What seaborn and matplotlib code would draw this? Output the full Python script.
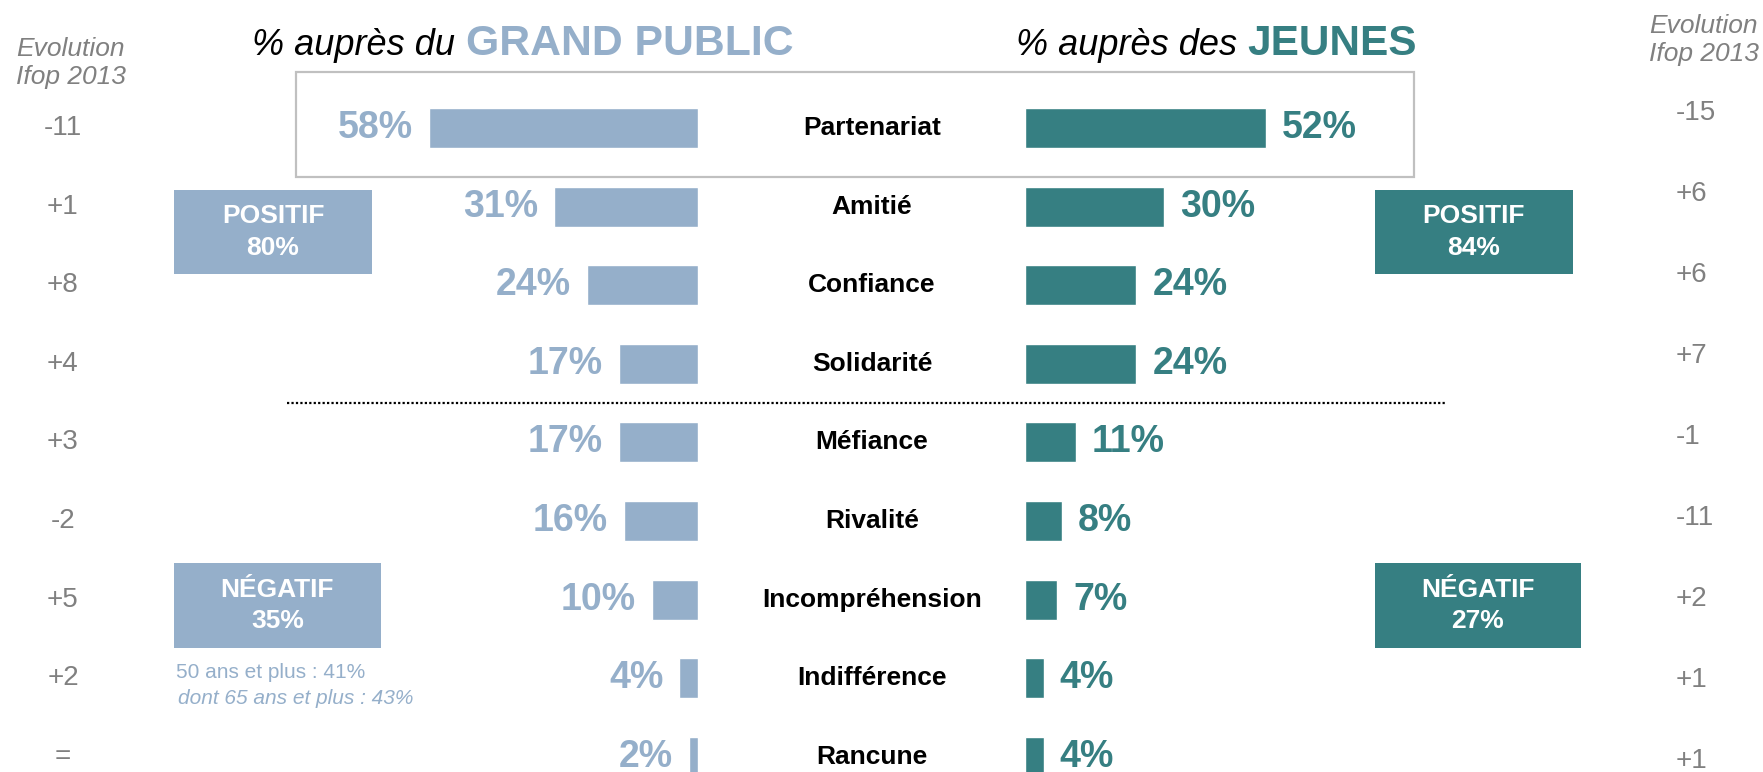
import numpy as np
import pandas as pd
import matplotlib
matplotlib.use("Agg")
import matplotlib.pyplot as plt
import matplotlib.transforms as mtrans
from matplotlib.patches import Rectangle
from matplotlib.lines import Line2D
import seaborn as sns

# donnees
categories = ["Partenariat", "Amitié", "Confiance", "Solidarité", "Méfiance",
              "Rivalité", "Incompréhension", "Indifférence", "Rancune"]
grand_public = [58, 31, 24, 17, 17, 16, 10, 4, 2]
jeunes = [52, 30, 24, 24, 11, 8, 7, 4, 4]
evol_gp = ["-11", "+1", "+8", "+4", "+3", "-2", "+5", "+2", "="]
evol_jeunes = ["-15", "+6", "+6", "+7", "-1", "-11", "+2", "+1", "+1"]
synthese_gp = {"POSITIF": 80, "NÉGATIF": 35}
synthese_jeunes = {"POSITIF": 84, "NÉGATIF": 27}
note_lignes = ["50 ans et plus : 41%", "dont 65 ans et plus : 43%"]

BLEU = "#95AFCA"
TEAL = "#367F82"
GRIS = "#808080"

sns.set_theme(style="white")
plt.rcParams["font.family"] = ["Liberation Sans", "DejaVu Sans"]

W, H = 1763, 772
fig = plt.figure(figsize=(W / 100, H / 100), dpi=100)

def px(x0, x1):
    return x0 / W, (x1 - x0) / W

# echelle verticale : une ligne par categorie
row0, pas = 128, 78.6
ylim_rows = ((H - row0) / pas, -row0 / pas)
echelle = 4.64  # pixels par point de %
largeur = 70 * echelle

df = pd.DataFrame({"cat": categories, "gp": grand_public, "j": jeunes})

# barres grand public (vers la gauche)
l, w = px(698 - largeur, 698)
axL = fig.add_axes([l, 0, w, 1])
sns.barplot(data=df, x="gp", y="cat", orient="h", color=BLEU, width=0.51,
            saturation=1, ax=axL)
axL.set_xlim(70, 0)
axL.set_ylim(*ylim_rows)
axL.axis("off")
for i, v in enumerate(grand_public):
    axL.annotate(f"{v}%", xy=(v, i), xytext=(-11.5, 0), textcoords="offset points",
                 ha="right", va="center", fontsize=27, fontweight="bold", color=BLEU)

# barres jeunes (vers la droite)
l, w = px(1025, 1025 + largeur)
axR = fig.add_axes([l, 0, w, 1])
sns.barplot(data=df, x="j", y="cat", orient="h", color=TEAL, width=0.51,
            saturation=1, ax=axR)
axR.set_xlim(0, 70)
axR.set_ylim(*ylim_rows)
axR.axis("off")
for i, v in enumerate(jeunes):
    axR.annotate(f"{v}%", xy=(v, i), xytext=(11.5, 0), textcoords="offset points",
                 ha="left", va="center", fontsize=27, fontweight="bold", color=TEAL)

tr_rows = mtrans.blended_transform_factory(fig.transFigure, axL.transData)

# libelles des categories
for i, c in enumerate(categories):
    fig.text(872 / W, i, c, transform=tr_rows, ha="center", va="center",
             fontsize=19, fontweight="bold", color="black")

# evolution 2013, colonne gauche
for i, e in enumerate(evol_gp):
    fig.text(63 / W, i, e, transform=tr_rows, ha="center", va="center",
             fontsize=20, color=GRIS)

# colonne droite (espacement un peu different)
axE = fig.add_axes([0, 0, 1, 1])
axE.set_ylim((H - 113) / 81, -113 / 81)
axE.set_xlim(0, W)
axE.axis("off")
for i, e in enumerate(evol_jeunes):
    axE.text(1676, i, e, ha="left", va="center", fontsize=20, color=GRIS)

fig.text(16 / W, 1 - 63 / H, "Evolution\nIfop 2013", ha="left", va="center",
         fontsize=19, style="italic", color=GRIS, linespacing=1.2)
fig.text(1649 / W, 1 - 40 / H, "Evolution\nIfop 2013", ha="left", va="center",
         fontsize=19, style="italic", color=GRIS, linespacing=1.2)

# titres
yb = 1 - 55 / H
fig.text(455 / W, yb, "% auprès du", ha="right", va="baseline", fontsize=26,
         style="italic", color="black")
fig.text(466 / W, yb, "GRAND PUBLIC", ha="left", va="baseline", fontsize=30.8,
         fontweight="bold", color=BLEU)
fig.text(1237 / W, yb, "% auprès des", ha="right", va="baseline", fontsize=26,
         style="italic", color="black")
fig.text(1247 / W, yb, "JEUNES", ha="left", va="baseline", fontsize=30.5,
         fontweight="bold", color=TEAL)

# cadre autour de Partenariat
fig.add_artist(Rectangle((296 / W, 1 - 177 / H), (1414 - 296) / W, (177 - 72) / H,
                         transform=fig.transFigure, fill=False,
                         edgecolor="#C0C0C0", linewidth=1.6))

# separation positif / negatif
fig.add_artist(Line2D([287 / W, 1447 / W], [3.5, 3.5], transform=tr_rows,
                      color="black", linewidth=1.6, linestyle=(0, (1, 1))))

# encadres de synthese
def encadre(x0, x1, y0, y1, texte, couleur):
    fig.add_artist(Rectangle((x0 / W, 1 - y1 / H), (x1 - x0) / W, (y1 - y0) / H,
                             transform=fig.transFigure, facecolor=couleur,
                             edgecolor="none"))
    fig.text((x0 + x1) / 2 / W, 1 - (y0 + y1) / 2 / H, texte, ha="center",
             va="center", fontsize=19, fontweight="bold", color="white",
             linespacing=1.4)

encadre(174, 372, 190, 274, f"POSITIF\n{synthese_gp['POSITIF']}%", BLEU)
encadre(1375, 1573, 190, 274, f"POSITIF\n{synthese_jeunes['POSITIF']}%", TEAL)
encadre(174, 381, 563, 648, f"NÉGATIF\n{synthese_gp['NÉGATIF']}%", BLEU)
encadre(1375, 1581, 563, 648, f"NÉGATIF\n{synthese_jeunes['NÉGATIF']}%", TEAL)

fig.text(176 / W, 1 - 673 / H, note_lignes[0], ha="left", va="center",
         fontsize=15, color=BLEU)
fig.text(178 / W, 1 - 698 / H, note_lignes[1], ha="left", va="center",
         fontsize=15, style="italic", color=BLEU)

fig.savefig("out.png", dpi=100, facecolor="white")
